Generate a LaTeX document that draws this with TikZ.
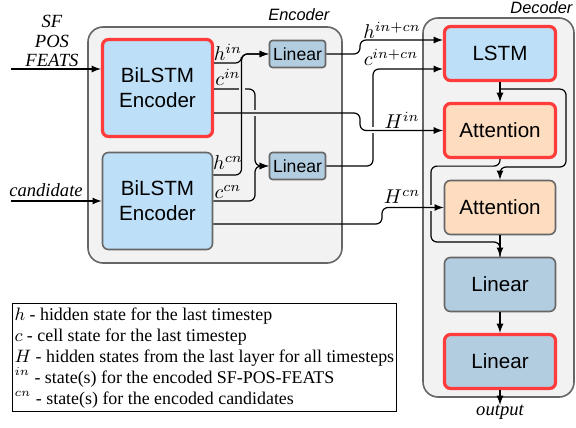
\documentclass[tikz,border=0pt]{standalone}
\usepackage{fontspec}
\setmainfont{Liberation Serif}
\setsansfont{Liberation Sans}
\usepackage{xcolor}
\usepackage{tikz}
\usetikzlibrary{shapes.geometric, arrows, calc}
\definecolor{hired}{HTML}{FF3B3B}
\definecolor{lstmblue}{HTML}{BDDFF8}
\definecolor{linblue}{HTML}{B3CDE0}
\definecolor{attorange}{HTML}{FDDCBF}
\definecolor{framegray}{HTML}{F2F2F2}
\definecolor{edgegray}{HTML}{666666}
\tikzstyle{frame} = [rectangle, rounded corners=7.5pt, draw=edgegray, line width=0.8pt, fill=framegray]
\tikzstyle{title} = [font=\sffamily\itshape\fontsize{8.2}{10}\selectfont, inner sep=0pt]
\tikzstyle{block} = [rectangle, rounded corners=3pt, draw=edgegray, line width=0.8pt, align=center, font=\sffamily\fontsize{10.3}{12.5}\selectfont]
\tikzstyle{bilstm} = [block, fill=lstmblue, minimum width=55pt, minimum height=48.5pt]
\tikzstyle{decblock} = [block, minimum width=55.5pt, minimum height=27pt]
\tikzstyle{smalllin} = [block, fill=linblue, rounded corners=1.5pt, minimum width=28pt, minimum height=13.5pt, inner sep=0pt, font=\sffamily\fontsize{8.8}{10}\selectfont]
\tikzstyle{trained} = [draw=hired, line width=1.6pt]
\tikzstyle{state} = [font=\fontsize{9.7}{11}\selectfont, inner sep=0pt]
\tikzstyle{inlabel} = [font=\itshape\fontsize{9.3}{9.8}\selectfont, align=center, inner sep=0pt]
\tikzstyle{legendbox} = [draw, line width=0.5pt, anchor=north west, align=left, inner xsep=1pt, inner ysep=2pt, font=\fontsize{8.95}{10.5}\selectfont]
\tikzstyle{arrow} = [line width=0.6pt, rounded corners=3pt, ->, >=latex]
\tikzstyle{wire} = [line width=0.6pt, rounded corners=3pt]
\tikzstyle{gap} = [line width=3pt]

\begin{document}
\begin{tikzpicture}[node distance=38.5pt, x=0.5pt, y=-0.5pt]
\useasboundingbox (0,0) rectangle (576,427);

% frames
\node (encoder) [frame, minimum width=127pt, minimum height=118pt] at (215,145) {};
\node (decoder) [frame, minimum width=75.5pt, minimum height=189.5pt] at (498.5,207.5) {};
\node (enctitle) [title, anchor=south east] at ($(encoder.north east)+(-13,-5)$) {Encoder};
\node (dectitle) [title, anchor=south east] at ($(decoder.north east)+(-2,-3)$) {Decoder};

% encoder
\node (bilstm1) [bilstm, trained] at (157.5,88) {BiLSTM\\Encoder};
\node (bilstm2) [bilstm, below of=bilstm1, yshift=-18pt] {BiLSTM\\Encoder};
\node (lin1) [smalllin] at (297.5,54) {Linear};
\node (lin2) [smalllin, below of=lin1, yshift=-17.5pt] {Linear};

% decoder
\node (lstm) [decblock, trained, fill=lstmblue] at (500,53.5) {LSTM};
\node (att1) [decblock, trained, fill=attorange, below of=lstm] {Attention};
\node (att2) [decblock, fill=attorange, below of=att1] {Attention};
\node (lin3) [decblock, fill=linblue, below of=att2] {Linear};
\node (lin4) [decblock, trained, fill=linblue, below of=lin3] {Linear};
\node (output) [inlabel, below of=lin4, yshift=13pt] {output};

% inputs
\node (sf) [inlabel] at (52,41) {SF\\POS\\FEATS};
\node (cand) [inlabel] at (46,190) {candidate};
\coordinate (sfin) at (11,69);
\coordinate (cdin) at (11,201);

% state labels
\node (lhin) [state] at (228,52) {$h^{in}$};
\node (lcin) [state] at (228,77) {$c^{in}$};
\node (lhcn) [state] at (228,163) {$h^{cn}$};
\node (lccn) [state] at (228,192) {$c^{cn}$};
\node (lhio) [state] at (392,30) {$h^{in+cn}$};
\node (lcio) [state] at (391,57) {$c^{in+cn}$};
\node (lHin) [state] at (402,120) {$H^{in}$};
\node (lHcn) [state] at (402,197) {$H^{cn}$};

% buses
\coordinate (hbus) at (241.5,0);
\coordinate (cbus) at (255,0);
\coordinate (hobus) at (360,40);
\coordinate (cobus) at (373,69);
\coordinate (Hinbus) at (360,0);
\coordinate (Hcnbus) at (382,0);
\coordinate (rbus) at (566,167);
\coordinate (lbus) at (431,242);

\draw [arrow] (sfin) -- (sfin -| bilstm1.west);
\draw [arrow] (cdin) -- (cdin -| bilstm2.west);

\draw [arrow] ($(bilstm1.east)+(0,1)$) -| (cbus |- lin2.west) -- (lin2.west);
\draw [arrow] (bilstm2.east) -| (cbus |- lin2.west) -- (lin2.west);
\draw [arrow] (lin2.east) -| (cobus) -- (cobus -| lstm.west);
\draw [wire] (att1.south) -- ++(0,7) -| (lbus) -| (lin3.north);

% gaps at crossings
\draw [gap, draw=framegray] ($(hbus |- bilstm1.east)+(0,-5)$) -- ++(0,12);
\draw [gap, draw=framegray] ($(cbus |- bilstm1.east)+(-6,25)$) -- ++(12,0);
\draw [gap, draw=white] ($(cobus |- att1.west)+(-6,0)$) -- ++(12,0);
\draw [gap, draw=framegray] ($(lbus |- att2.west)+(-6,0)$) -- ++(12,0);

\draw [arrow] ($(bilstm1.east)+(0,-25)$) -| (hbus |- lin1.west) -- (lin1.west);
\draw [arrow] ($(bilstm2.east)+(0,-26)$) -| (hbus |- lin1.west) -- (lin1.west);
\draw [arrow] (lin1.east) -| (hobus) -- (hobus -| lstm.west);
\draw [arrow] ($(bilstm1.east)+(0,25)$) -| (Hinbus |- att1.west) -- (att1.west);
\draw [arrow] ($(bilstm2.east)+(0,23)$) -| (Hcnbus |- att2.west) -- (att2.west);

\draw [arrow] (lstm) -- (att1);
\draw [arrow] ($(lstm.south)+(0,7)$) -| (rbus) -| (att2.north);
\draw [arrow] (att2) -- (lin3);
\draw [arrow] (lin3) -- (lin4);
\draw [arrow] (lin4) -- (output);

% legend
\node (legend) [legendbox] at (12,303) {$h$ - hidden state for the last timestep\\
$c$ - cell state for the last timestep\\
$H$ - hidden states from the last layer for all timesteps\\
$^{in}$ - state(s) for the encoded SF-POS-FEATS\\
$^{cn}$ - state(s) for the encoded candidates};
\end{tikzpicture}
\end{document}
